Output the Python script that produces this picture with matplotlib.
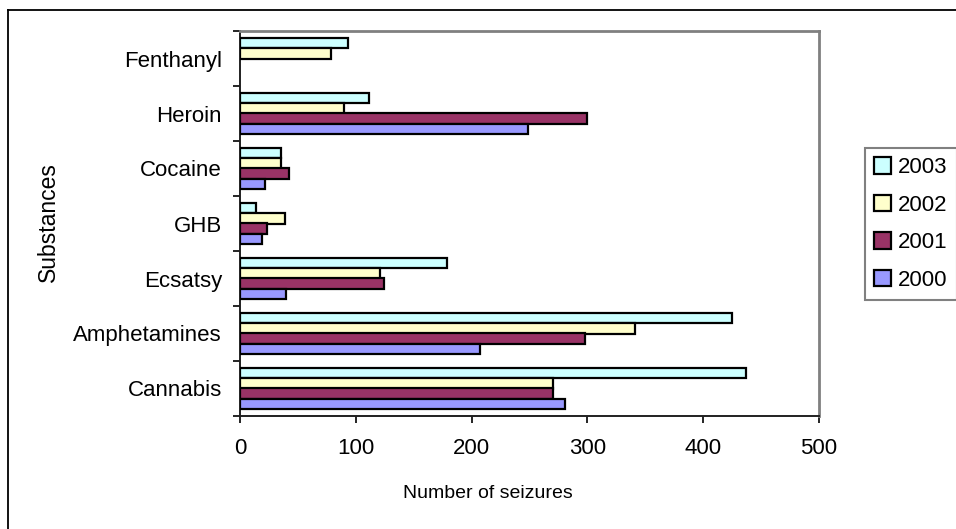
import numpy as np
import matplotlib
matplotlib.use("Agg")
import matplotlib.pyplot as plt
from matplotlib.lines import Line2D

plt.rcParams['font.family'] = ['Liberation Sans', 'DejaVu Sans']

categories = ["Cannabis", "Amphetamines", "Ecsatsy", "GHB", "Cocaine", "Heroin", "Fenthanyl"]
years = ["2003", "2002", "2001", "2000"]
v2003 = [437, 425, 179, 14, 35, 111, 93]
v2002 = [270, 341, 121, 39, 35, 90, 79]
v2001 = [270, 298, 124, 23, 42, 300, np.nan]
v2000 = [281, 207, 40, 19, 22, 249, np.nan]
series = [v2003, v2002, v2001, v2000]
colors = ["#CCFFFF", "#FFFFCC", "#993366", "#9999FF"]
xticks = [0, 100, 200, 300, 400, 500]

W, H = 956, 529
fig = plt.figure(figsize=(W / 100, H / 100), dpi=100)
ax = fig.add_axes([240 / W, 1 - 416 / H, (819 - 240) / W, (416 - 31) / H])

y = np.arange(len(categories))
h = 0.185
offsets = [1.5 * h, 0.5 * h, -0.5 * h, -1.5 * h]
for vals, col, off, yr in zip(series, colors, offsets, years):
    ax.barh(y + off, vals, height=h, color=col, edgecolor="black", linewidth=1.6, label=yr, zorder=3)

ax.set_xlim(0, 500)
ax.set_ylim(-0.5, len(categories) - 0.5)
ax.set_xticks(xticks)
ax.set_xticklabels([str(t) for t in xticks], fontsize=16)
ax.set_yticks(y)
ax.set_yticklabels(categories, fontsize=16)
ax.set_yticks(np.arange(-0.5, len(categories), 1.0), minor=True)
ax.tick_params(axis='y', which='major', length=0, pad=13)
ax.tick_params(axis='y', which='minor', length=5, width=1.2, color='black', direction='out')
ax.tick_params(axis='x', which='major', length=5, width=1.2, color='black', direction='out', pad=11)

for s in ['top', 'right']:
    ax.spines[s].set_color('#808080')
    ax.spines[s].set_linewidth(2)
for s in ['left', 'bottom']:
    ax.spines[s].set_color('#202020')
    ax.spines[s].set_linewidth(1.4)

fig.text(48 / W, 1 - 222 / H, "Substances", rotation=90, ha='center', va='center', fontsize=16.5)
fig.text(488 / W, 1 - 493 / H, "Number of seizures", ha='center', va='center', fontsize=14)

leg = ax.legend(loc='upper left', bbox_to_anchor=(865 / W, 1 - 148 / H), bbox_transform=fig.transFigure,
                fontsize=16, frameon=True, fancybox=False, edgecolor='#808080', framealpha=1,
                borderaxespad=0, borderpad=0.42, labelspacing=0.74, handlelength=0.75,
                handleheight=0.75, handletextpad=0.32)
leg.get_frame().set_linewidth(1.5)

# outer chart border (left and top only visible)
fig.add_artist(Line2D([8 / W, 8 / W], [0, 1 - 10 / H], transform=fig.transFigure, color='black', lw=1.3))
fig.add_artist(Line2D([8 / W, 1], [1 - 10 / H, 1 - 10 / H], transform=fig.transFigure, color='black', lw=1.3))

fig.savefig("out.png", dpi=100)
